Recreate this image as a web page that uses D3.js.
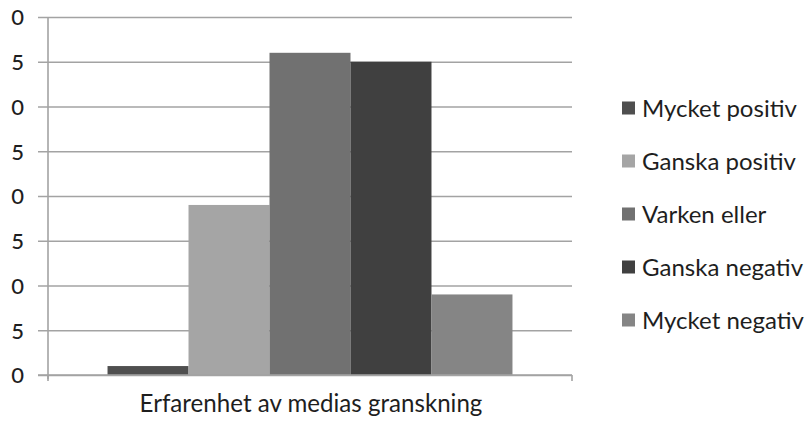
<!DOCTYPE html>
<html>
<head>
<meta charset="utf-8">
<script src="https://cdn.jsdelivr.net/npm/d3@7"></script>
<style>
  html, body { margin: 0; padding: 0; background: #fff; }
  svg { display: block; }
</style>
</head>
<body>
<script>
const category = "Erfarenhet av medias granskning";
const seriesNames = ["Mycket positiv", "Ganska positiv", "Varken eller", "Ganska negativ", "Mycket negativ"];
const seriesValues = [1, 19, 36, 35, 9];
const seriesColors = ["#4f4f4f", "#a5a5a5", "#717171", "#404040", "#858585"];
const yTicks = [0, 5, 10, 15, 20, 25, 30, 35, 40];

const W = 806, H = 421;
const plot = { left: 48, right: 572, top: 17, bottom: 375 };
const font = "Lato, 'Open Sans', sans-serif";

const svg = d3.select("body").append("svg").attr("width", W).attr("height", H);

const y = d3.scaleLinear().domain([0, 40]).range([plot.bottom, plot.top]);
const xCat = d3.scaleBand().domain([category]).range([plot.left, plot.right]).paddingInner(0).paddingOuter(0);
const xSer = d3.scaleBand().domain(seriesNames)
  .range([xCat(category), xCat(category) + xCat.bandwidth()])
  .paddingInner(0).paddingOuter(0.735);

// clip for tick labels (reference image is cropped at the left edge)
svg.append("defs").append("clipPath").attr("id", "lblclip")
  .append("rect").attr("x", 11 - plot.left).attr("y", -10).attr("width", W).attr("height", H + 20);

const yAxis = d3.axisLeft(y).tickValues(yTicks).tickSize(-(plot.right - plot.left)).tickPadding(16).tickFormat(d3.format("d"));
const gy = svg.append("g").attr("transform", `translate(${plot.left},0)`)
  .attr("clip-path", "url(#lblclip)").call(yAxis);
gy.select(".domain").remove();
gy.selectAll(".tick line").attr("stroke", "#a3a3a3").attr("stroke-width", 1.6).attr("x1", -10);
gy.selectAll(".tick text")
  .attr("fill", "#1e1e1e").attr("font-family", font).attr("font-size", 22)
  .attr("font-weight", 500)
  .attr("x", -24).attr("dy", "0.36em");

// y axis line
svg.append("line").attr("x1", plot.left).attr("x2", plot.left)
  .attr("y1", plot.top).attr("y2", plot.bottom + 4)
  .attr("stroke", "#a3a3a3").attr("stroke-width", 1.6);

// bars
svg.append("g").selectAll("rect").data(seriesNames).join("rect")
  .attr("x", d => xSer(d))
  .attr("width", xSer.bandwidth())
  .attr("y", (d, i) => y(seriesValues[i]))
  .attr("height", (d, i) => plot.bottom - y(seriesValues[i]))
  .attr("fill", (d, i) => seriesColors[i]);

// x axis
const xAxis = d3.axisBottom(xCat).tickSize(0).tickFormat(() => "");
const gx = svg.append("g").attr("transform", `translate(0,${plot.bottom})`).call(xAxis);
gx.select(".domain").attr("stroke", "#a3a3a3").attr("stroke-width", 1.6)
  .attr("d", `M${plot.left - 10},0H${plot.right}`);
gx.selectAll(".tick").remove();
[plot.left, plot.right].forEach(xx => {
  gx.append("line").attr("x1", xx).attr("x2", xx).attr("y1", 0).attr("y2", 6)
    .attr("stroke", "#a3a3a3").attr("stroke-width", 1.6);
});

// axis title
const title = svg.append("text").attr("x", (plot.left + plot.right) / 2 + 1).attr("y", 412)
  .attr("text-anchor", "middle").attr("font-family", font).attr("font-size", 21)
  .attr("fill", "#1e1e1e").text(category);
const tw = title.node().getComputedTextLength();
title.attr("font-size", 21 * 343 / tw);

// legend
const lg = svg.append("g");
const rowY = d3.scalePoint().domain(seriesNames).range([108, 320]);
const items = lg.selectAll("g").data(seriesNames).join("g")
  .attr("transform", d => `translate(622,${rowY(d)})`);
items.append("rect").attr("x", 0).attr("y", -6.5).attr("width", 13).attr("height", 13)
  .attr("fill", (d, i) => seriesColors[i]);
const lt = items.append("text").attr("x", 20).attr("y", 0).attr("dy", "0.36em")
  .attr("font-family", font).attr("font-size", 20).attr("fill", "#1e1e1e").text(d => d);
const lw = lt.nodes()[0].getComputedTextLength();
lt.attr("font-size", 20 * 155 / lw);
</script>
</body>
</html>
